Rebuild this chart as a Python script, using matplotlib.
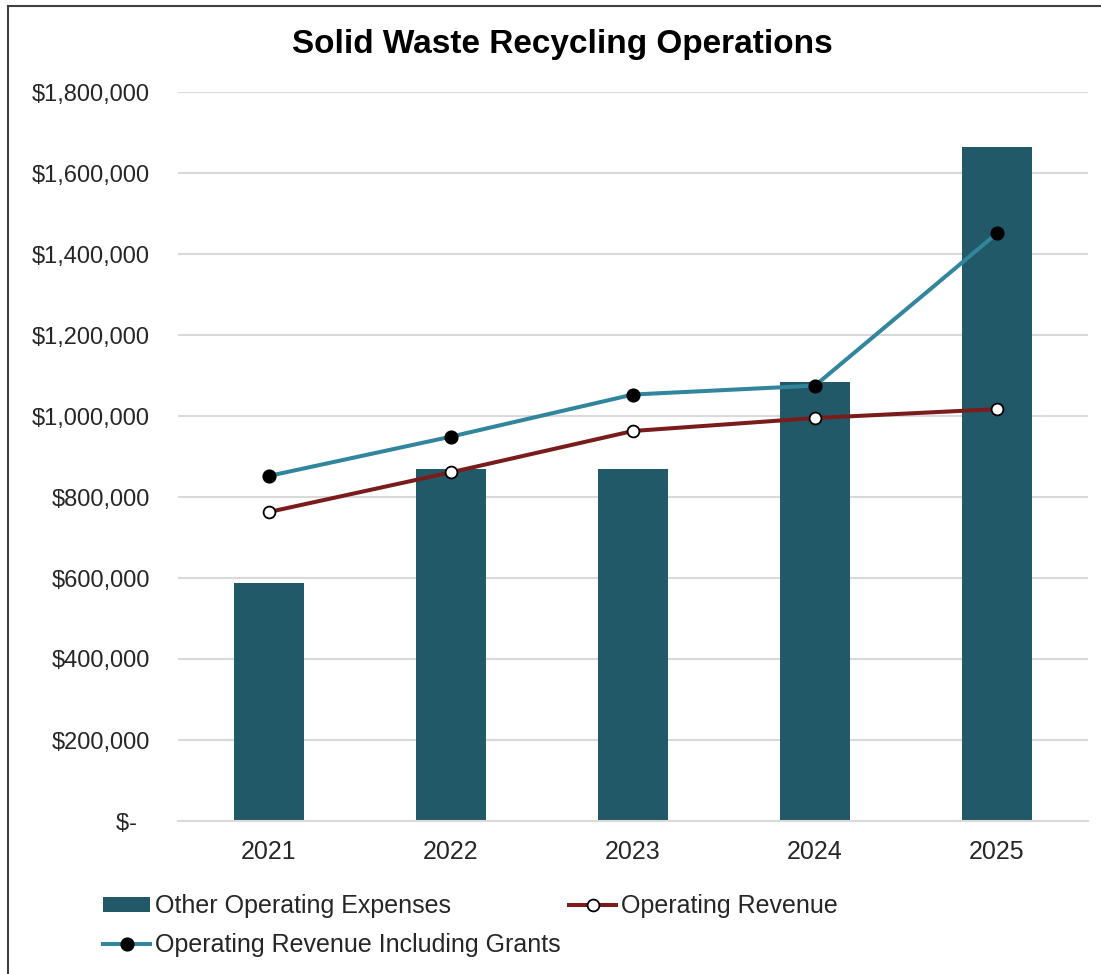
import matplotlib
matplotlib.use('Agg')
import matplotlib.pyplot as plt
from matplotlib.lines import Line2D
from matplotlib.ticker import FuncFormatter
import numpy as np

plt.rcParams['font.family'] = ['Liberation Sans', 'DejaVu Sans']

years = ['2021', '2022', '2023', '2024', '2025']
other_expenses = [588000, 868000, 868000, 1085000, 1663000]
op_revenue = [763000, 861000, 963000, 995000, 1017000]
op_revenue_grants = [852000, 949000, 1053000, 1075000, 1451000]

BAR_COLOR = '#215968'
REV_COLOR = '#7b1c1c'
GRANT_COLOR = '#31859c'
GRID_COLOR = '#d9d9d9'
TEXT_COLOR = '#262626'


def dollars(v, _pos):
    if v == 0:
        return '$-  '
    return f'${v:,.0f}'


fig = plt.figure(figsize=(11.01, 9.74), dpi=100)
ax = fig.add_axes([178 / 1101, 1 - 821 / 974, 910 / 1101, 729 / 974])

x = np.arange(len(years))
bars = ax.bar(x, other_expenses, width=0.39, color=BAR_COLOR, zorder=2,
              label='Other Operating Expenses')
rev_line, = ax.plot(x, op_revenue, color=REV_COLOR, lw=2.9, zorder=3,
                    marker='o', ms=8.5, mfc='white', mec='black', mew=1.3,
                    label='Operating Revenue')
grant_line, = ax.plot(x, op_revenue_grants, color=GRANT_COLOR, lw=2.9, zorder=3,
                      marker='o', ms=9.2, mfc='black', mec='black',
                      label='Operating Revenue Including Grants')

ax.set_xlim(-0.5, len(years) - 0.5)
ax.set_ylim(0, 1800000)
ax.set_yticks(np.arange(0, 1800001, 200000))
ax.yaxis.set_major_formatter(FuncFormatter(dollars))
ax.set_xticks(x)
ax.set_xticklabels(years)
ax.tick_params(axis='both', length=0, colors=TEXT_COLOR)
ax.tick_params(axis='y', pad=20, labelsize=17)
ax.tick_params(axis='x', pad=14, labelsize=18)
ax.grid(axis='y', color=GRID_COLOR, lw=1.5, zorder=0)
ax.set_axisbelow(True)
for side in ('top', 'right', 'left'):
    ax.spines[side].set_visible(False)
ax.spines['bottom'].set_color(GRID_COLOR)
ax.spines['bottom'].set_linewidth(1.5)

fig.text(562 / 1101, 1 - 45 / 974, 'Solid Waste Recycling Operations',
         ha='center', va='center', fontsize=24, fontweight='bold', color='black')

# legend fills column-wise: expenses + grants in the first column, revenue in the second
fig.legend([bars, grant_line, rev_line],
           [bars.get_label(), grant_line.get_label(), rev_line.get_label()],
           loc='upper left', bbox_to_anchor=(103 / 1101, 1 - 894 / 974),
           ncol=2, frameon=False, fontsize=18, borderpad=0, borderaxespad=0,
           handlelength=1.88, handleheight=0.55, handletextpad=0.2,
           columnspacing=0.35, labelspacing=0.6, labelcolor=TEXT_COLOR)

# chart-area border (left and top edges)
fig.add_artist(Line2D([8 / 1101, 8 / 1101], [0, 1 - 6 / 974],
                      transform=fig.transFigure, color='#404040', lw=1.5))
fig.add_artist(Line2D([8 / 1101, 1], [1 - 6 / 974, 1 - 6 / 974],
                      transform=fig.transFigure, color='#404040', lw=1.5))

fig.savefig('out.png', dpi=100, facecolor='white')
